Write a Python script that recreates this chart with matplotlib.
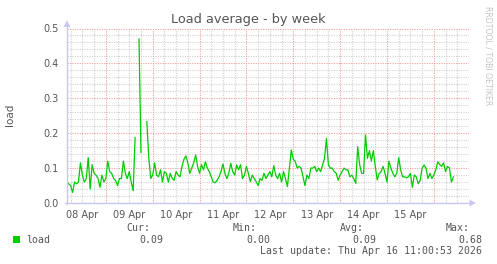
import numpy as np
import matplotlib
matplotlib.use("Agg")
import matplotlib.pyplot as plt
from matplotlib.lines import Line2D
from matplotlib.patches import Polygon, Rectangle

# ---- data: hourly load average, hours since 08 Apr 00:00 ----
start_hour = 4
load = [
    0.06, 0.055, 0.05, 0.03, 0.06, 0.055, 0.06, 0.115, 0.08, 0.06,          # h4-13
    0.07, 0.13, 0.04, 0.11, 0.085, 0.08, 0.07, 0.045, 0.08, 0.06,           # h14-23
    0.07, 0.12, 0.09, 0.085, 0.07, 0.065, 0.05, 0.07, 0.07, 0.12,           # h24-33
    0.085, 0.07, 0.09, 0.06, 0.035, 0.187, np.nan, 0.47, 0.145, np.nan,     # h34-43
    np.nan, 0.233, 0.13, 0.07, 0.08, 0.115, 0.08, 0.075, 0.095, 0.06,       # h44-53
    0.09, 0.085, 0.06, 0.085, 0.07, 0.065, 0.09, 0.08, 0.075, 0.105,        # h54-63
    0.125, 0.135, 0.115, 0.085, 0.1, 0.115, 0.138, 0.105, 0.085, 0.11,      # h64-73
    0.095, 0.118, 0.1, 0.09, 0.075, 0.06, 0.058, 0.065, 0.075, 0.09,        # h74-83
    0.112, 0.085, 0.07, 0.085, 0.114, 0.09, 0.08, 0.109, 0.095, 0.11,       # h84-93
    0.07, 0.08, 0.105, 0.085, 0.061, 0.08, 0.07, 0.061, 0.05, 0.07,         # h94-103
    0.065, 0.085, 0.07, 0.08, 0.09, 0.075, 0.107, 0.08, 0.07, 0.085,        # h104-113
    0.06, 0.09, 0.07, 0.047, 0.1, 0.152, 0.125, 0.12, 0.1, 0.105,           # h114-123
    0.1, 0.075, 0.05, 0.08, 0.07, 0.1, 0.1, 0.105, 0.09, 0.1,               # h124-133
    0.09, 0.109, 0.128, 0.185, 0.109, 0.1, 0.1, 0.09, 0.085, 0.065,         # h134-143
    0.08, 0.09, 0.1, 0.095, 0.095, 0.075, 0.08, 0.07, 0.056, 0.161,         # h144-153
    0.11, 0.085, 0.085, 0.195, 0.128, 0.15, 0.12, 0.15, 0.105, 0.066,       # h154-163
    0.085, 0.09, 0.105, 0.085, 0.06, 0.12, 0.1, 0.085, 0.075, 0.085,        # h164-173
    0.13, 0.095, 0.075, 0.075, 0.072, 0.075, 0.085, 0.045, 0.08, 0.075,     # h174-183
    0.055, 0.065, 0.1, 0.109, 0.1, 0.07, 0.085, 0.07, 0.08, 0.095,          # h184-193
    0.118, 0.11, 0.105, 0.115, 0.09, 0.105, 0.1, 0.06, 0.075,               # h194-202
]
hours = np.arange(start_hour, start_hour + len(load))

day_labels = ["08 Apr", "09 Apr", "10 Apr", "11 Apr", "12 Apr", "13 Apr", "14 Apr", "15 Apr"]
y_ticks = [0.0, 0.1, 0.2, 0.3, 0.4, 0.5]
y_tick_labels = ["0.0", "0.1", "0.2", "0.3", "0.4", "0.5"]

title = "Load average - by week"
series_name = "load"
stat_cur, stat_min, stat_avg, stat_max = "0.09", "0.00", "0.09", "0.68"
last_update = "Last update: Thu Apr 16 11:00:53 2026"

# ---- figure ----
W, H = 497, 264
fig = plt.figure(figsize=(W / 100, H / 100), dpi=100, facecolor="white")

def fx(x):
    return x / W

def fy(y):
    return 1 - y / H

L, R, T, B = 67, 469, 28.5, 203
ax = fig.add_axes([fx(L), fy(B), (R - L) / W, (B - T) / H])
ax.set_facecolor("white")
ax.set_xlim(4.12, 203.9)
ax.set_ylim(0, 0.5)
for s in ax.spines.values():
    s.set_visible(False)

txt_col = "#555555"
minor_col = "#d0d0d0"
major_col = "#f0a0a0"
dots = (0, (1, 1.2))

# grid
ax.set_yticks(y_ticks)
ax.set_yticklabels(y_tick_labels)
ax.set_yticks(np.arange(0, 0.5001, 0.02), minor=True)
ax.grid(axis="y", which="major", color=major_col, linestyle=dots, linewidth=0.8)
ax.grid(axis="y", which="minor", color=minor_col, linestyle=dots, linewidth=0.8)

noon = [12 + 24 * i for i in range(len(day_labels))]
ax.set_xticks(noon)
ax.set_xticklabels(day_labels)
ax.set_xticks([h for h in range(0, 216, 6) if h % 24 != 0], minor=True)
ax.xaxis.remove_overlapping_locs = False
ax.grid(axis="x", which="minor", color=minor_col, linestyle=dots, linewidth=0.8)
for h in range(24, 216, 24):
    ax.axvline(h, color=major_col, linestyle=dots, linewidth=0.8, zorder=1)

ax.tick_params(axis="both", which="both", length=0, labelsize=7, colors=txt_col)
ax.tick_params(axis="y", pad=6)
ax.tick_params(axis="x", pad=5)
ax.set_axisbelow(True)

ax.plot(hours, load, color="#00cc00", linewidth=0.9, zorder=3)

# axes lines with arrows
axis_col = "#c8c8f6"
fig.add_artist(Line2D([fx(L), fx(L)], [fy(B + 1), fy(26)], color=axis_col, lw=1.0))
fig.add_artist(Polygon([[fx(L), fy(20.5)], [fx(L - 3.5), fy(27)], [fx(L + 3.5), fy(27)]],
                       closed=True, color=axis_col, lw=0))
fig.add_artist(Line2D([fx(L - 2), fx(470)], [fy(B), fy(B)], color=axis_col, lw=1.0))
fig.add_artist(Polygon([[fx(476), fy(B)], [fx(469.5), fy(B - 3.5)], [fx(469.5), fy(B + 3.5)]],
                       closed=True, color=axis_col, lw=0))

# title and labels
fig.text(fx(248), fy(19), title, ha="center", va="center", fontsize=9.3, color=txt_col)
fig.text(fx(10), fy(115), "load", ha="center", va="center", rotation=90, fontsize=7.5, color=txt_col)
fig.text(fx(488), fy(56), "RRDTOOL / TOBI OETIKER", ha="center", va="center", rotation=270,
         fontsize=5.6, color="#c4c4c4")

# legend
mono = "DejaVu Sans Mono"
fs = 7.1
fig.add_artist(Rectangle((fx(13), fy(243)), 7 / W, 7 / H, color="#00cc00", lw=0))
fig.text(fx(26), fy(240), series_name, ha="left", va="center", family=mono, fontsize=fs, color=txt_col)
for head, val, xh, xv in [("Cur:", stat_cur, 150, 163), ("Min:", stat_min, 257, 270),
                          ("Avg:", stat_avg, 364, 376), ("Max:", stat_max, 470, 482)]:
    fig.text(fx(xh), fy(228), head, ha="right", va="center", family=mono, fontsize=fs, color=txt_col)
    fig.text(fx(xv), fy(240), val, ha="right", va="center", family=mono, fontsize=fs, color=txt_col)
fig.text(fx(482), fy(251), last_update, ha="right", va="center", family=mono, fontsize=fs, color=txt_col)

fig.savefig("out.png", dpi=100, facecolor="white")
